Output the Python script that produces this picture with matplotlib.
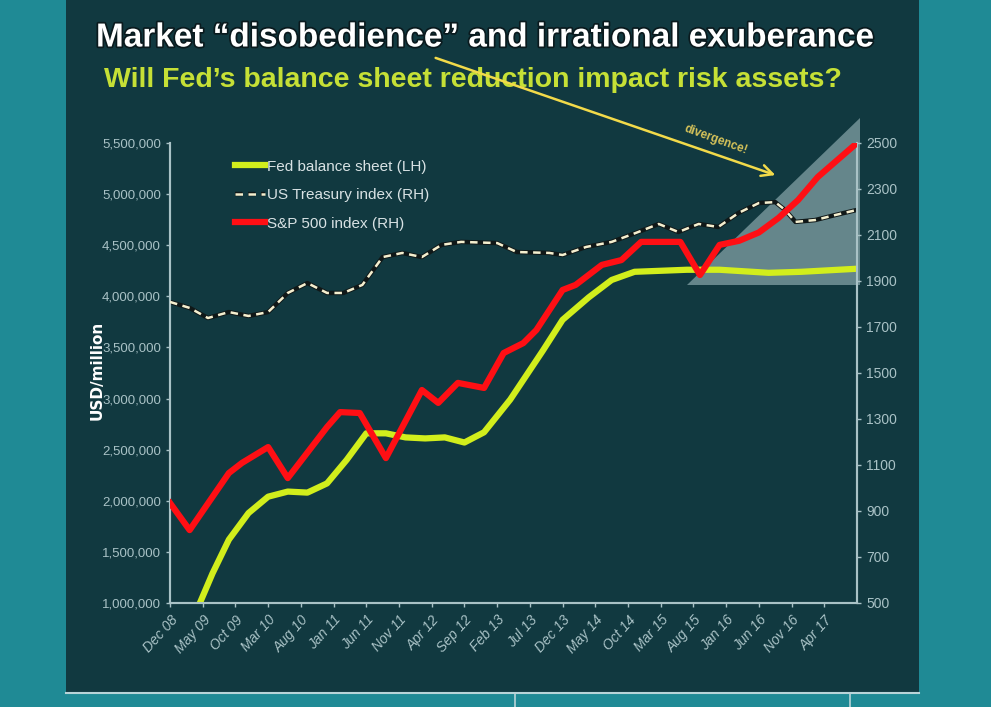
import matplotlib
matplotlib.use("Agg")
import matplotlib.pyplot as plt
from matplotlib import font_manager
from matplotlib.patches import Rectangle, Polygon, FancyArrowPatch
import matplotlib.patheffects as pe

# pick a narrow font if it is there
names = {f.name for f in font_manager.fontManager.ttflist}
FONT = 'Liberation Sans Narrow' if 'Liberation Sans Narrow' in names else 'Liberation Sans'
plt.rcParams['font.family'] = [FONT, 'DejaVu Sans']

# months counted from Dec 08
tick_months = list(range(0, 101, 5))
tick_labels = ['Dec 08', 'May 09', 'Oct 09', 'Mar 10', 'Aug 10', 'Jan 11', 'Jun 11',
               'Nov 11', 'Apr 12', 'Sep 12', 'Feb 13', 'Jul 13', 'Dec 13', 'May 14',
               'Oct 14', 'Mar 15', 'Aug 15', 'Jan 16', 'Jun 16', 'Nov 16', 'Apr 17']

fed_months = [2, 4.5, 6.5, 9, 12, 15, 18, 21, 24, 27, 30, 33, 36, 39, 42, 45, 48, 52,
              57, 60, 64, 67.5, 71, 79, 84, 91.5, 96.5, 105]
fed_values = [700000, 990000, 1290000, 1620000, 1880000, 2040000, 2090000, 2080000,
              2170000, 2400000, 2660000, 2660000, 2620000, 2610000, 2620000, 2570000,
              2670000, 2990000, 3470000, 3770000, 3990000, 4160000, 4240000, 4260000,
              4260000, 4230000, 4240000, 4270000]

ust_months = [0, 3, 5.8, 9, 12, 15, 18, 21, 24, 26.5, 29.4, 32.5, 35.5, 38.5, 41.5, 44.5,
              50, 53, 58, 60, 63.6, 67.5, 71.2, 74.7, 77.7, 80.8, 83.8, 86.9, 90, 92.5,
              94, 95.6, 98.6, 101.7, 105]
ust_values = [1809, 1783, 1739, 1765, 1748, 1765, 1848, 1891, 1848, 1848, 1883, 2004,
              2022, 2004, 2057, 2070, 2065, 2026, 2022, 2013, 2048, 2070, 2109, 2148,
              2113, 2148, 2135, 2196, 2239, 2243, 2209, 2157, 2165, 2187, 2209]

spx_months = [0, 3, 9, 11, 15, 18, 24, 26, 29, 33, 38.5, 41, 44, 48, 51, 54, 56, 60, 62,
              66, 69, 72, 78, 81, 84, 87, 90, 93, 96, 99, 102, 105]
spx_values = [935, 817, 1065, 1109, 1178, 1043, 1265, 1330, 1326, 1130, 1426, 1370, 1457,
              1435, 1587, 1630, 1687, 1861, 1883, 1970, 1991, 2070, 2070, 1926, 2057, 2075,
              2111, 2174, 2252, 2352, 2426, 2500]

TEAL = '#1f8a95'
PANEL = '#113940'
AXC = '#a9c2c6'
TXT = '#d8e2e4'

fig = plt.figure(figsize=(9.91, 7.07), dpi=100, facecolor=TEAL)
fig.add_artist(Rectangle((66 / 991, 15 / 707), (919 - 66) / 991, 1, transform=fig.transFigure,
                         facecolor=PANEL, edgecolor='none', zorder=0))
fig.add_artist(plt.Line2D([66 / 991, 919 / 991], [14 / 707, 14 / 707], transform=fig.transFigure,
                          color='#b8d4d8', lw=1.5))
for xb in (515, 850):
    fig.add_artist(plt.Line2D([xb / 991, xb / 991], [0, 14 / 707], transform=fig.transFigure,
                              color='#b8d4d8', lw=1.2))

ax = fig.add_axes([170 / 991, 1 - 603 / 707, (857 - 170) / 991, (603 - 143) / 707])
ax.patch.set_alpha(0)
ax2 = ax.twinx()

ax.set_xlim(0, 105)
ax.set_ylim(1000000, 5500000)
ax2.set_ylim(500, 2500)

# divergence triangle
tri = Polygon([(79, 4110000), (105.5, 4110000), (105.5, 5745000)], closed=True,
              facecolor='#b9d3d7', alpha=0.5, edgecolor='none', zorder=1, clip_on=False)
ax.add_patch(tri)

ax.plot(fed_months, fed_values, color='#d2ee1c', lw=4.5, zorder=3,
        solid_joinstyle='round', label='Fed balance sheet (LH)')
ax2.plot(ust_months, ust_values, color='#101818', lw=3.2, zorder=2)
ust, = ax2.plot(ust_months, ust_values, color='#f4efcf', lw=1.8, dashes=(3, 2.2), zorder=3,
                label='US Treasury index (RH)')
spx, = ax2.plot(spx_months, spx_values, color='#ff0f14', lw=4.5, zorder=4,
                solid_joinstyle='round', label='S&P 500 index (RH)')

ax.set_xticks(tick_months)
ax.set_xticklabels(tick_labels, rotation=48, ha='right', rotation_mode='anchor',
                   fontsize=10, color=TXT, style='italic')
ax.set_yticks(range(1000000, 5500001, 500000))
ax.set_yticklabels([f'{v:,}' for v in range(1000000, 5500001, 500000)], fontsize=9.5, color=TXT)
ax2.set_yticks(range(500, 2501, 200))
ax2.set_yticklabels([str(v) for v in range(500, 2501, 200)], fontsize=10, color=TXT)

for a in (ax, ax2):
    for s in a.spines.values():
        s.set_color(AXC)
        s.set_linewidth(1.5)
    a.spines['top'].set_visible(False)
    a.tick_params(colors=AXC, length=3, width=1)
ax.tick_params(axis='x', pad=4)

fig.text(97 / 991, 1 - 370 / 707, 'USD/million', rotation=90, ha='center', va='center',
         color='white', fontsize=11, fontweight='bold', family='DejaVu Sans')

fed_handle = plt.Line2D([], [], color='#d2ee1c', lw=4.5)
ust_handle = plt.Line2D([], [], color='#f4efcf', lw=1.8, dashes=(3, 2.2),
                        path_effects=[pe.Stroke(linewidth=3.2, foreground='#101818'), pe.Normal()])
spx_handle = plt.Line2D([], [], color='#ff0f14', lw=4.5)
leg = ax2.legend([fed_handle, ust_handle, spx_handle],
                 ['Fed balance sheet (LH)', 'US Treasury index (RH)', 'S&P 500 index (RH)'],
                 loc='upper left', bbox_to_anchor=(227 / 991, 1 - 152 / 707),
                 bbox_transform=fig.transFigure, frameon=False, fontsize=11,
                 handlelength=2.0, handletextpad=0.1, labelspacing=0.95, borderpad=0)
for t in leg.get_texts():
    t.set_color(TXT)

fig.text(486 / 991, 1 - 38 / 707, 'Market \u201cdisobedience\u201d and irrational exuberance',
         ha='center', va='center', color='white', fontsize=24, fontweight='bold',
         path_effects=[pe.withStroke(linewidth=2.5, foreground='#0a1a1e')])
fig.text(473 / 991, 1 - 80 / 707, 'Will Fed\u2019s balance sheet reduction impact risk assets?',
         ha='center', va='center', color='#c6e036', fontsize=20.5, fontweight='bold')

arrow = FancyArrowPatch((433, 707 - 57), (778, 707 - 176), transform=None,
                        arrowstyle='->,head_length=8,head_width=4', color='#f2da4a', lw=1.8,
                        zorder=10)
fig.add_artist(arrow)
fig.text(716 / 991, 1 - 140 / 707, 'divergence!', rotation=-20, ha='center', va='center',
         color='#d6c35a', fontsize=8.5, fontweight='bold')

fig.savefig('out.png', dpi=100, facecolor=fig.get_facecolor())
